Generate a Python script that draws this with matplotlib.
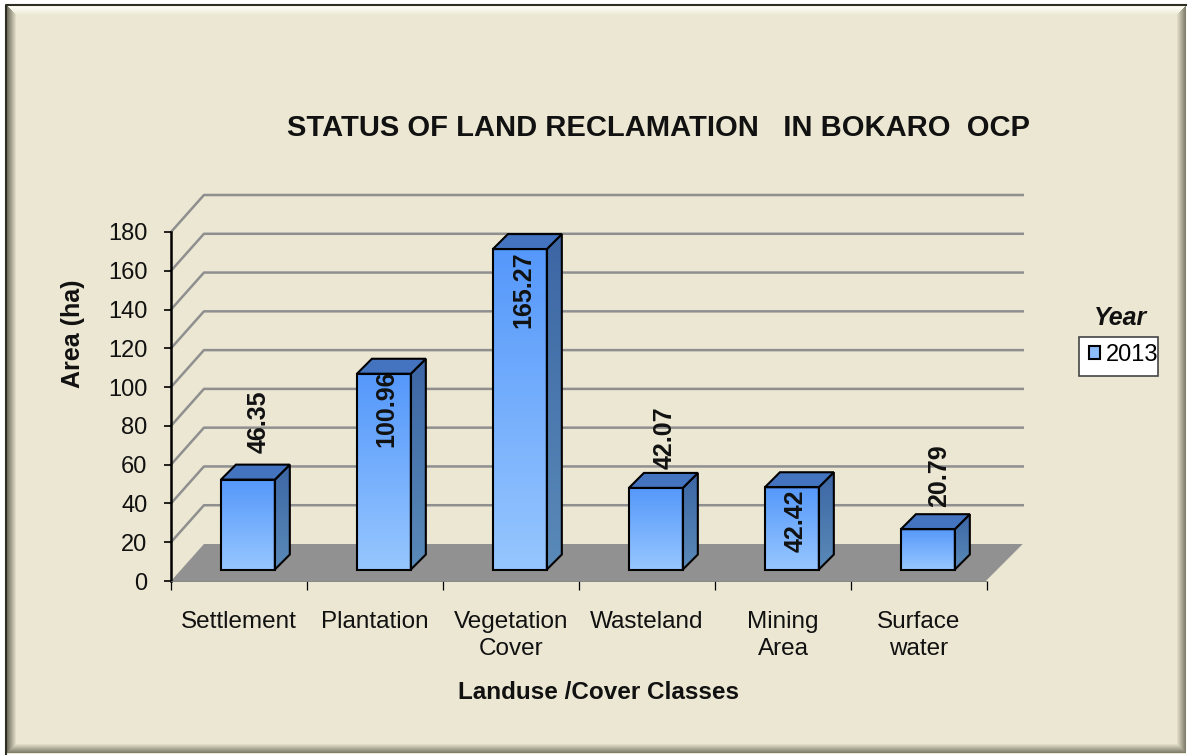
import matplotlib
matplotlib.use("Agg")
import matplotlib.pyplot as plt
import numpy as np
from matplotlib.colors import LinearSegmentedColormap
from matplotlib.patches import Patch, Polygon, Rectangle

plt.rcParams["font.family"] = ["Liberation Sans", "DejaVu Sans"]

categories = ["Settlement", "Plantation", "Vegetation\nCover", "Wasteland", "Mining\nArea", "Surface\nwater"]
values = [46.35, 100.96, 165.27, 42.07, 42.42, 20.79]
# label offset from the top front corner of each bar, pixels
label_dx = [38, 29, 30, 36, 31, 38]
label_dy = [58, -35, -41, 50, -33, 54]
y_ticks = list(range(0, 181, 20))

W, H = 1188, 755
BG = "#ebe7d2"
GRID = "#8f8f8f"
TEXT = "#111111"

# 3d look, all in data units of the front plane
PX_X = 1 / 136.2
PX_Y = 180 / 349
DEPTH_X = 33 * PX_X
DEPTH_Y = 37 * PX_Y
BAR_W = 54 * PX_X
BAR_DX = 50 * PX_X
BAR_BASE = 11.5 * PX_Y
SIDE_X = 15 * PX_X
SIDE_Y = 15 * PX_Y

fig = plt.figure(figsize=(W / 100, H / 100), dpi=100, facecolor="white")

# chart frame with bevel, in pixel coordinates
bg = fig.add_axes([0, 0, 1, 1], zorder=0)
bg.set_xlim(0, W)
bg.set_ylim(H, 0)
bg.axis("off")
bg.add_patch(Rectangle((6, 5), 1180, 749, fc=BG, ec="none"))
base = np.array(matplotlib.colors.to_rgb(BG))
for i in range(10):
    t = i / 9
    top = np.array([1.0, 1.0, 0.97]) * (1 - t) + base * t
    left = np.array([0.45, 0.44, 0.38]) * (1 - t) + base * t
    right = np.array([0.50, 0.49, 0.42]) * (1 - t) + base * t
    bg.add_patch(Polygon([(7 + i, 6 + i), (1185 - i, 6 + i), (1185 - i, 7 + i), (7 + i, 7 + i)], fc=top, ec="none"))
    bg.add_patch(Polygon([(7 + i, 6 + i), (8 + i, 6 + i), (8 + i, 753 - i), (7 + i, 753 - i)], fc=left, ec="none"))
    bg.add_patch(Polygon([(1185 - i, 6 + i), (1186 - i, 6 + i), (1186 - i, 753 - i), (1185 - i, 753 - i)], fc=right, ec="none"))
    bg.add_patch(Polygon([(7 + i, 753 - i), (1186 - i, 753 - i), (1186 - i, 752 - i), (7 + i, 752 - i)], fc=right, ec="none"))
bg.plot([6, 6, 1186], [754, 5, 5], color="#2e2e22", lw=1.5)
# legend box
bg.add_patch(Rectangle((1079, 336.5), 79, 39.5, fc="white", ec="#444444", lw=1.2))

ax = fig.add_axes([171 / W, 1 - 581 / H, 816 / W, 349 / H], zorder=1)
ax.patch.set_alpha(0)
xmax = 816 * PX_X

# floor
ax.add_patch(Polygon([(0, 0), (xmax, 0), (xmax + DEPTH_X + 4 * PX_X, DEPTH_Y), (DEPTH_X, DEPTH_Y)],
                     fc="#919191", ec="none", clip_on=False, zorder=1))
# grid lines on side and back wall
for v in y_ticks[1:]:
    ax.plot([0, DEPTH_X, xmax + DEPTH_X + 4 * PX_X], [v, v + DEPTH_Y, v + DEPTH_Y],
            color=GRID, lw=1.8, clip_on=False, zorder=1)

front_cmap = LinearSegmentedColormap.from_list("front", ["#5598fb", "#96c6fe"])
side_cmap = LinearSegmentedColormap.from_list("side", ["#3c66a4", "#5a8ab8"])
grad = np.linspace(0, 1, 128).reshape(-1, 1)

for i, v in enumerate(values):
    x0 = i + BAR_DX
    x1 = x0 + BAR_W
    y0 = BAR_BASE
    y1 = BAR_BASE + v

    front = Polygon([(x0, y0), (x1, y0), (x1, y1), (x0, y1)], fc="none", ec="black", lw=1.5, zorder=5, clip_on=False)
    side = Polygon([(x1, y0), (x1 + SIDE_X, y0 + SIDE_Y), (x1 + SIDE_X, y1 + SIDE_Y), (x1, y1)],
                   fc="none", ec="black", lw=1.5, zorder=5, clip_on=False)
    cap = Polygon([(x0, y1), (x1, y1), (x1 + SIDE_X, y1 + SIDE_Y), (x0 + SIDE_X, y1 + SIDE_Y)],
                  fc="#4473bf", ec="black", lw=1.5, zorder=5, clip_on=False)
    ax.add_patch(side)
    ax.add_patch(cap)
    ax.add_patch(front)

    im = ax.imshow(grad, cmap=front_cmap, extent=(x0, x1, y0, y1), aspect="auto", zorder=4)
    im.set_clip_path(front)
    im = ax.imshow(grad, cmap=side_cmap, extent=(x1, x1 + SIDE_X, y0, y1 + SIDE_Y), aspect="auto", zorder=4)
    im.set_clip_path(side)

    ax.annotate(f"{v:.2f}", xy=(x0, y1), xytext=(label_dx[i], label_dy[i]), textcoords="offset pixels",
                rotation=90, ha="center", va="center", fontsize=18, fontweight="bold", color=TEXT,
                zorder=6, annotation_clip=False)

ax.set_xlim(0, xmax)
ax.set_ylim(0, 180)

ax.set_yticks(y_ticks)
ax.set_xticks(range(7))
ax.set_xticklabels([])
ax.set_xticks(np.arange(6) + 0.5, categories, minor=True)
ax.tick_params(axis="y", length=5, width=1.2, labelsize=17, pad=12, labelcolor=TEXT)
ax.tick_params(axis="x", which="major", length=6.5, width=0.9)
ax.tick_params(axis="x", which="minor", length=0, labelsize=17.5, pad=21.5, labelcolor=TEXT)
for label in ax.get_xticklabels(minor=True):
    label.set_linespacing(1.3)
for s in ["top", "right"]:
    ax.spines[s].set_visible(False)
ax.spines["left"].set_linewidth(1.8)
ax.spines["bottom"].set_linewidth(0.6)
ax.spines["bottom"].set_color("#777777")

ax.set_xlabel("Landuse /Cover Classes", fontsize=17.5, fontweight="bold", color=TEXT)
ax.xaxis.set_label_coords(428 / 816, -100 / 349)
ax.set_ylabel("Area (ha)", fontsize=18, fontweight="bold", color=TEXT)
ax.yaxis.set_label_coords(-86 / 816, (581 - 334) / 349)

fig.text(658 / W, 1 - 128.5 / H, "STATUS OF LAND RECLAMATION   IN BOKARO  OCP", ha="center", va="center",
         fontsize=21, fontweight="bold", color=TEXT)

leg = ax.legend(handles=[Patch(fc="#8dbdfc", ec="black", lw=1.5, label="2013")], loc="center left",
                bbox_to_anchor=(1089 / W, 1 - 355 / H), bbox_transform=fig.transFigure,
                fontsize=17, frameon=False, handlelength=0.45, handleheight=0.45, handletextpad=0.25,
                borderpad=0, borderaxespad=0)
fig.text(1121 / W, 1 - 318 / H, "Year", ha="center", va="center", fontsize=18, fontweight="bold",
         fontstyle="italic", color=TEXT)

fig.savefig("out.png", dpi=100)
